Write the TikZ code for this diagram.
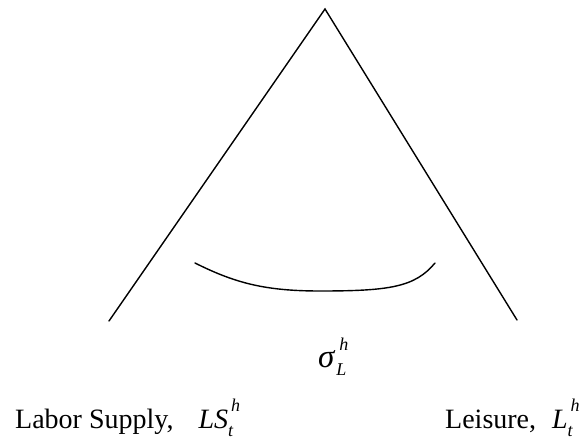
\documentclass[tikz,border=0pt]{standalone}
\usepackage{fontspec}
\setmainfont{Liberation Serif}
\newcommand{\subsup}[2]{\rlap{\raisebox{-8pt}{\fontsize{18}{18}\selectfont\itshape #1}}\hspace{3pt}\raisebox{17pt}{\fontsize{18}{18}\selectfont\itshape #2}}
\begin{document}
\begin{tikzpicture}[x=1pt,y=-1pt,
  edge/.style={line width=1.4pt,line cap=round},
  lbl/.style={inner sep=0pt,anchor=base west,font=\fontsize{28}{28}\selectfont}]
\useasboundingbox (0,0) rectangle (582,439);
\coordinate (apex) at (325,9);
\coordinate (lend) at (109,321);
\coordinate (rend) at (517,320);
\draw[edge] (lend) -- (apex) -- (rend);
\coordinate (cs) at (195,263);
\coordinate (cm) at (320,291);
\coordinate (ce) at (435,263);
\draw[edge] (cs) .. controls (235,283) and (265,291) .. (cm)
  .. controls (390,291) and (415,287) .. (ce);
\node[lbl,font=\fontsize{33}{33}\selectfont] (sig) at (318,367) {\itshape σ\hspace{2pt}\subsup{L}{h}};
\node[lbl] (ls) at (15,428) {Labor Supply,\hspace{25pt}\textit{LS}\subsup{t}{h}};
\node[lbl] (le) at (445,428) {Leisure,\hspace{16pt}\textit{L}\subsup{t}{h}};
\end{tikzpicture}
\end{document}
